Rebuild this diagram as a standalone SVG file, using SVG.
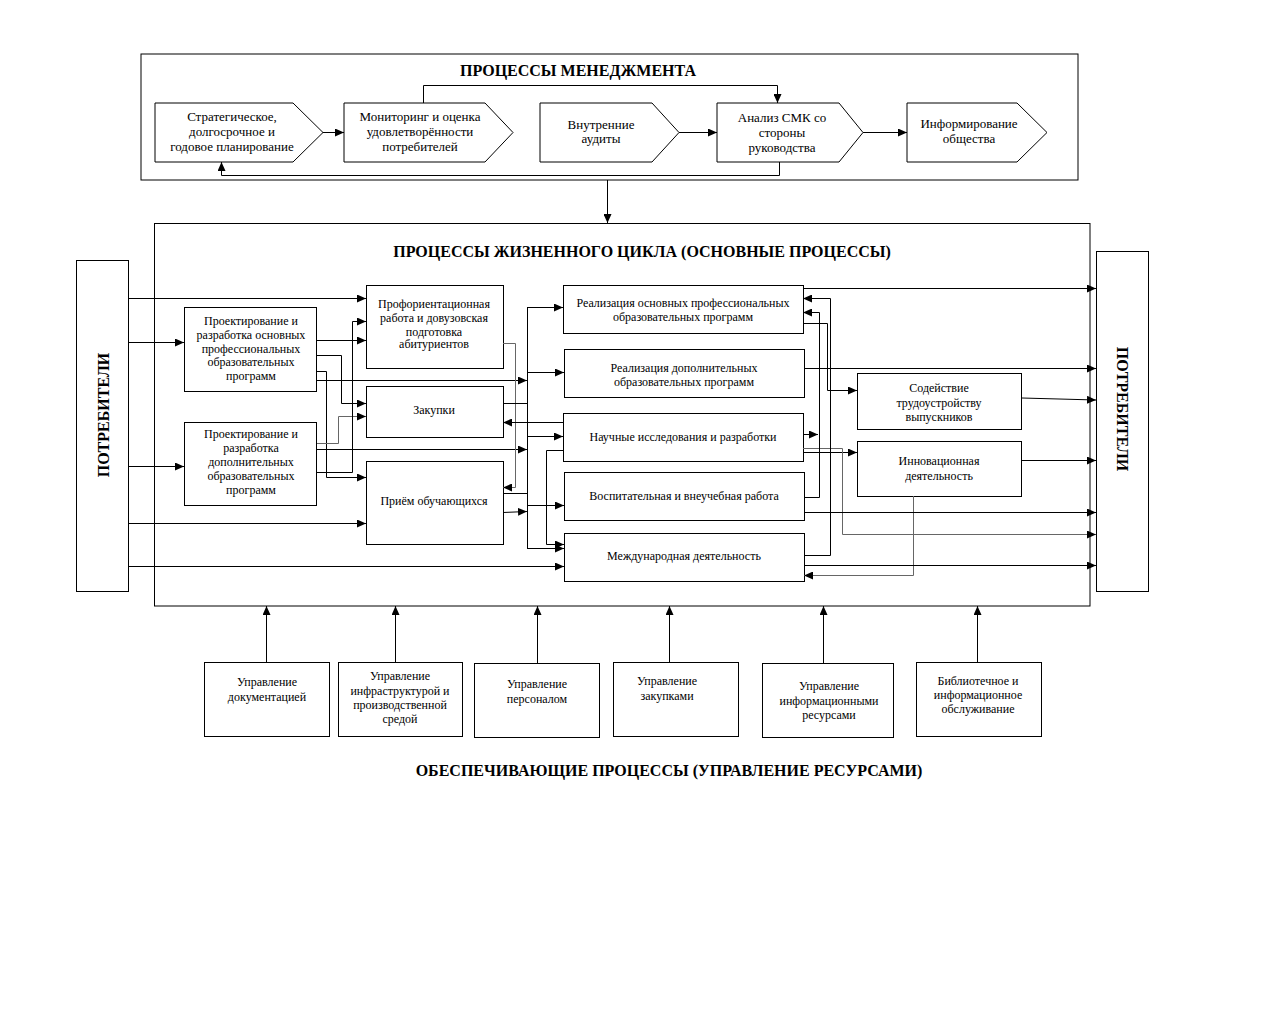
<svg xmlns="http://www.w3.org/2000/svg" width="1280" height="1024" viewBox="0 0 1280 1024">
<style>
.bx{fill:#fff;stroke:#000;stroke-width:1}
.fr{fill:none;stroke:#000;stroke-width:1}
text{font-family:"Liberation Serif","Times New Roman",serif;fill:#000;text-anchor:middle}
.t{font-size:12px}
.tm{font-size:13px}
.h{font-size:16px;font-weight:bold}
.ln{fill:none;stroke:#000;stroke-width:1}
.ar{marker-end:url(#ah)}
.g{stroke:#666}
</style>
<defs>
<marker id="ah" markerUnits="userSpaceOnUse" markerWidth="9" markerHeight="8" refX="9" refY="4" orient="auto">
<path d="M0,0 L9,4 L0,8 Z" fill="#000"/>
</marker>
</defs>
<rect width="1280" height="1024" fill="#fff"/>

<g id="management">
<rect class="fr" x="141" y="54" width="937" height="126"/>
<text class="h" x="578" y="76">ПРОЦЕССЫ МЕНЕДЖМЕНТА</text>
</g>
<g id="m1"><path class="bx" d="M155,103 H293 L323,132.5 L293,162 H155 Z"/>
<text class="tm" x="232"><tspan x="232" y="121">Стратегическое,</tspan><tspan x="232" y="136">долгосрочное и</tspan><tspan x="232" y="151">годовое планирование</tspan></text></g>
<g id="m2"><path class="bx" d="M344,103 H485 L513,132.5 L485,162 H344 Z"/>
<text class="tm" x="420"><tspan x="420" y="121">Мониторинг и оценка</tspan><tspan x="420" y="136">удовлетворённости</tspan><tspan x="420" y="151">потребителей</tspan></text></g>
<g id="m3"><path class="bx" d="M540,103 H652 L679,132.5 L652,162 H540 Z"/>
<text class="tm" x="601"><tspan x="601" y="129">Внутренние</tspan><tspan x="601" y="143">аудиты</tspan></text></g>
<g id="m4"><path class="bx" d="M717,103 H839 L863,132.5 L839,162 H717 Z"/>
<text class="tm" x="782"><tspan x="782" y="122">Анализ СМК со</tspan><tspan x="782" y="137">стороны</tspan><tspan x="782" y="152">руководства</tspan></text></g>
<g id="m5"><path class="bx" d="M907,103 H1017 L1047,132.5 L1017,162 H907 Z"/>
<text class="tm" x="969"><tspan x="969" y="128">Информирование</tspan><tspan x="969" y="143">общества</tspan></text></g>

<g id="lifecycle">
<rect class="fr" x="154.5" y="223.5" width="935.5" height="382.5"/>
<text class="h" x="642" y="257">ПРОЦЕССЫ ЖИЗНЕННОГО ЦИКЛА (ОСНОВНЫЕ ПРОЦЕССЫ)</text>
</g>

<g id="consumers-left"><rect class="bx" x="76.5" y="260.5" width="52" height="331"/>
<text class="h" transform="translate(109,415) rotate(-90)" x="0" y="0">ПОТРЕБИТЕЛИ</text></g>
<g id="consumers-right"><rect class="bx" x="1096.5" y="251.5" width="52" height="340"/>
<text class="h" transform="translate(1117,409) rotate(90)" x="0" y="0">ПОТРЕБИТЕЛИ</text></g>

<g id="nA"><rect class="bx" x="184.5" y="307.5" width="132" height="84"/>
<text class="t"><tspan x="251" y="325">Проектирование и</tspan><tspan x="251" y="339">разработка основных</tspan><tspan x="251" y="352.5">профессиональных</tspan><tspan x="251" y="366">образовательных</tspan><tspan x="251" y="380">программ</tspan></text></g>
<g id="nB"><rect class="bx" x="184.5" y="422.5" width="132" height="83"/>
<text class="t"><tspan x="251" y="438">Проектирование и</tspan><tspan x="251" y="452">разработка</tspan><tspan x="251" y="466">дополнительных</tspan><tspan x="251" y="480">образовательных</tspan><tspan x="251" y="494">программ</tspan></text></g>
<g id="nC"><rect class="bx" x="366.5" y="285.5" width="137" height="83"/>
<text class="t"><tspan x="434" y="308">Профориентационная</tspan><tspan x="434" y="322">работа и довузовская</tspan><tspan x="434" y="335.5">подготовка</tspan><tspan x="434" y="348">абитуриентов</tspan></text></g>
<g id="nD"><rect class="bx" x="366.5" y="386.5" width="137" height="51"/>
<text class="t" x="434" y="414">Закупки</text></g>
<g id="nE"><rect class="bx" x="366.5" y="461.5" width="137" height="83"/>
<text class="t" x="434" y="505">Приём обучающихся</text></g>
<g id="nF"><rect class="bx" x="563.5" y="285.5" width="240" height="48"/>
<text class="t"><tspan x="683" y="307">Реализация основных профессиональных</tspan><tspan x="683" y="321">образовательных программ</tspan></text></g>
<g id="nG"><rect class="bx" x="564.5" y="349.5" width="240" height="48"/>
<text class="t"><tspan x="684" y="372">Реализация дополнительных</tspan><tspan x="684" y="386">образовательных программ</tspan></text></g>
<g id="nH"><rect class="bx" x="563.5" y="413.5" width="240" height="48"/>
<text class="t" x="683" y="441">Научные исследования и разработки</text></g>
<g id="nI"><rect class="bx" x="564.5" y="472.5" width="240" height="48"/>
<text class="t" x="684" y="500">Воспитательная и внеучебная работа</text></g>
<g id="nJ"><rect class="bx" x="564.5" y="533.5" width="240" height="48"/>
<text class="t" x="684" y="560">Международная деятельность</text></g>
<g id="nK"><rect class="bx" x="857.5" y="373.5" width="164" height="56"/>
<text class="t"><tspan x="939" y="392">Содействие</tspan><tspan x="939" y="406.5">трудоустройству</tspan><tspan x="939" y="421">выпускников</tspan></text></g>
<g id="nL"><rect class="bx" x="857.5" y="441.5" width="164" height="55"/>
<text class="t"><tspan x="939" y="465">Инновационная</tspan><tspan x="939" y="480">деятельность</tspan></text></g>

<g id="s1"><rect class="bx" x="204.5" y="662.5" width="125" height="74"/>
<text class="t"><tspan x="267" y="686">Управление</tspan><tspan x="267" y="701">документацией</tspan></text></g>
<g id="s2"><rect class="bx" x="338.5" y="662.5" width="124" height="74"/>
<text class="t"><tspan x="400" y="680">Управление</tspan><tspan x="400" y="694.5">инфраструктурой и</tspan><tspan x="400" y="709">производственной</tspan><tspan x="400" y="723">средой</tspan></text></g>
<g id="s3"><rect class="bx" x="474.5" y="663.5" width="125" height="74"/>
<text class="t"><tspan x="537" y="688">Управление</tspan><tspan x="537" y="703">персоналом</tspan></text></g>
<g id="s4"><rect class="bx" x="613.5" y="662.5" width="125" height="74"/>
<text class="t"><tspan x="667" y="685">Управление</tspan><tspan x="667" y="699.5">закупками</tspan></text></g>
<g id="s5"><rect class="bx" x="762.5" y="663.5" width="131" height="74"/>
<text class="t"><tspan x="829" y="690">Управление</tspan><tspan x="829" y="704.5">информационными</tspan><tspan x="829" y="719">ресурсами</tspan></text></g>
<g id="s6"><rect class="bx" x="916.5" y="662.5" width="125" height="74"/>
<text class="t"><tspan x="978" y="685">Библиотечное и</tspan><tspan x="978" y="699">информационное</tspan><tspan x="978" y="713">обслуживание</tspan></text></g>
<g id="support-title"><text class="h" x="669" y="776">ОБЕСПЕЧИВАЮЩИЕ ПРОЦЕССЫ (УПРАВЛЕНИЕ РЕСУРСАМИ)</text></g>

<g id="connectors">
<path class="ln ar" d="M323,132.5 H344"/>
<path class="ln ar" d="M679,132.5 H717"/>
<path class="ln ar" d="M863,132.5 H907"/>
<path class="ln ar" d="M423.5,103 V85.5 H777.5 V103"/>
<path class="ln ar" d="M779.5,162 V175.5 H221.5 V162"/>
<path class="ln ar" d="M607.5,180 V223"/>

<path class="ln ar" d="M128,298.5 H366"/>
<path class="ln ar" d="M128,342.5 H184"/>
<path class="ln ar" d="M128,466.5 H184"/>
<path class="ln ar" d="M128,523.5 H366"/>
<path class="ln ar" d="M128,566.5 H564"/>

<path class="ln ar" d="M317,340.5 H366"/>
<path class="ln ar" d="M317,355.5 H341.5 V403.5 H366"/>
<path class="ln ar" d="M317,371.5 H326.5 V477.5 H366"/>
<path class="ln ar" d="M317,380.5 H527"/>
<path class="ln ar g" d="M317,443.5 H338.5 V416.5 H366"/>
<path class="ln ar" d="M317,449.5 H527"/>
<path class="ln ar" d="M317,472.5 H352.5 V321.5 H366"/>

<path class="ln ar g" d="M503,343.5 H515.5 V487.5 H503"/>
<path class="ln" d="M503,403.5 H527.5"/>
<path class="ln" d="M503,493.5 H527.5"/>
<path class="ln ar" d="M503,512.5 L527,511.5"/>

<path class="ln" d="M527.5,307 V549"/>
<path class="ln ar" d="M527.5,307.5 H563"/>
<path class="ln ar" d="M527.5,372.5 H564"/>
<path class="ln ar" d="M527.5,436.5 H563"/>
<path class="ln ar" d="M527.5,505.5 H564"/>
<path class="ln ar" d="M527.5,548.5 H564"/>

<path class="ln ar" d="M563,422.5 H503"/>
<path class="ln ar" d="M563,450.5 H546.5 V544.5 H564"/>

<path class="ln ar" d="M803,288.5 H1096"/>
<path class="ln ar" d="M803,323.5 H827.5 V390.5 H857"/>
<path class="ln ar" d="M804,368.5 H1096"/>
<path class="ln ar" d="M1022,398 L1096,400"/>
<path class="ln ar" d="M803,434.5 H818"/>
<path class="ln ar" d="M803,452.5 H857"/>
<path class="ln ar g" d="M803,448.5 H842.5 V534.5 H1096"/>
<path class="ln ar" d="M804,497.5 H819.5 V312.5 H803"/>
<path class="ln ar" d="M804,555.5 H830.5 V298.5 H803"/>
<path class="ln ar" d="M1022,460.5 H1096"/>
<path class="ln ar g" d="M913.5,496 V575.5 H804"/>
<path class="ln ar" d="M804,512.5 H1096"/>
<path class="ln ar" d="M804,565.5 H1096"/>

<path class="ln ar" d="M266.5,662 V606"/>
<path class="ln ar" d="M395.5,662 V606"/>
<path class="ln ar" d="M537.5,663 V606"/>
<path class="ln ar" d="M669.5,662 V606"/>
<path class="ln ar" d="M823.5,663 V606"/>
<path class="ln ar" d="M977.5,662 V606"/>
</g>
</svg>
